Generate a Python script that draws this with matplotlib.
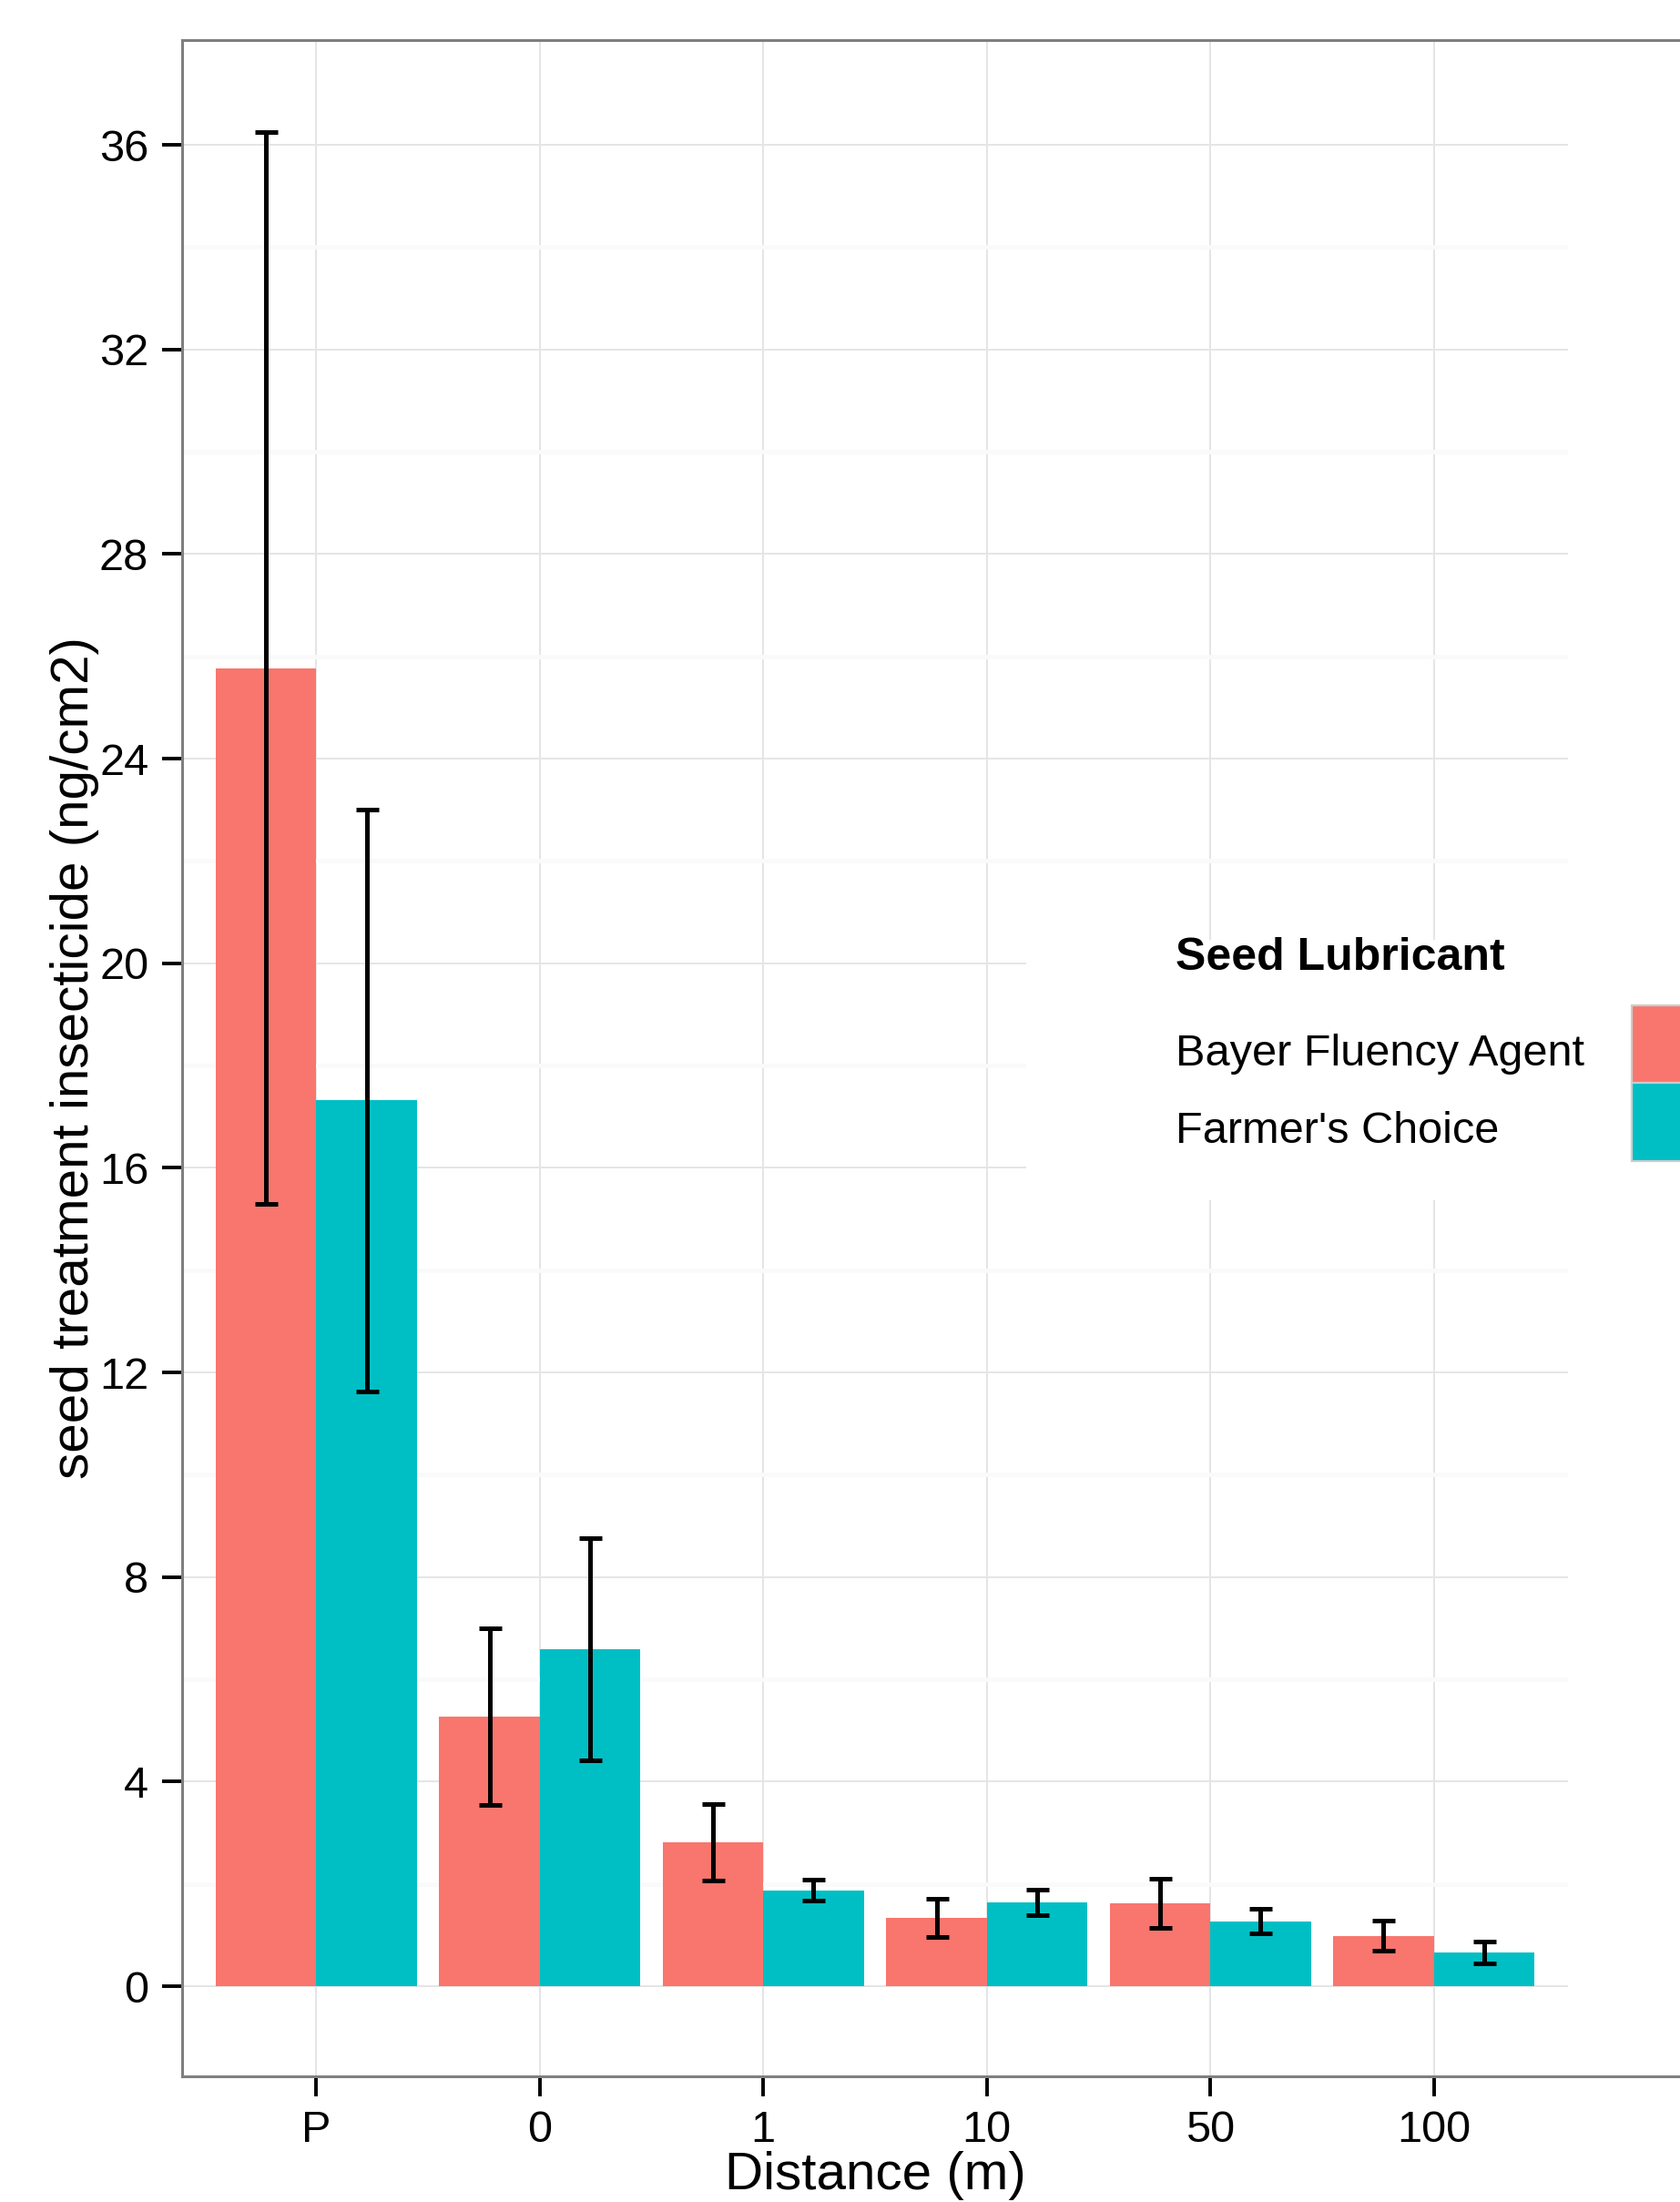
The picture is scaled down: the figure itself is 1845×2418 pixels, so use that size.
import matplotlib
matplotlib.use("Agg")
import matplotlib.pyplot as plt
from matplotlib.lines import Line2D
from matplotlib.patches import Rectangle
import numpy as np

plt.rcParams['font.family'] = ['Liberation Sans', 'DejaVu Sans']

# Seed treatment insecticide residue by distance from the planted field
distances = ['P', '0', '1', '10', '50', '100']
lubricants = ['Bayer Fluency Agent', "Farmer's Choice"]
bayer_mean = [25.77, 5.27, 2.82, 1.34, 1.62, 0.99]
bayer_se = [10.48, 1.73, 0.75, 0.38, 0.48, 0.29]
farmer_mean = [17.32, 6.59, 1.88, 1.64, 1.27, 0.66]
farmer_se = [5.69, 2.18, 0.20, 0.25, 0.24, 0.21]
y_ticks = [0, 4, 8, 12, 16, 20, 24, 28, 32, 36]

colors = ['#F8766D', '#00BFC4']
W, H = 1845, 2418
fig = plt.figure(figsize=(W / 100, H / 100), dpi=100)

# panel placement in pixels
px_left, px_right, px_top, px_bottom = 200, 1722, 44, 2280
ax = fig.add_axes([px_left / W, 1 - px_bottom / H,
                   (px_right - px_left) / W, (px_bottom - px_top) / H])

x = np.arange(1, len(distances) + 1)
bar_w = 0.45
series = [(bayer_mean, bayer_se), (farmer_mean, farmer_se)]
offsets = [-bar_w / 2, bar_w / 2]
for (mean, se), off, col in zip(series, offsets, colors):
    ax.bar(x + off, mean, width=bar_w, color=col, linewidth=0, zorder=2)
for (mean, se), off in zip(series, offsets):
    ax.errorbar(x + off, mean, yerr=se, fmt='none', ecolor='black',
                elinewidth=3.6, capsize=9, capthick=3.6, zorder=3)

ax.set_xlim(0.4, 6.6)
ax.set_ylim(-1.76, 38.05)
ax.set_xticks(x)
ax.set_xticklabels(distances)
ax.set_yticks(y_ticks)
ax.set_yticks([t + 2 for t in y_ticks[:-1]], minor=True)

ax.set_axisbelow(True)
ax.grid(which='major', color='#E5E5E5', linewidth=1.4)
ax.grid(which='minor', axis='y', color='#FAFAFA', linewidth=3.5)

ax.tick_params(which='major', direction='out', length=16, width=2.8,
               color='black', labelsize=35, pad=10.5)
ax.tick_params(which='minor', length=0)

for s in ['top', 'bottom', 'right']:
    ax.spines[s].set_visible(False)
ax.spines['left'].set_color('#7F7F7F')
ax.spines['left'].set_linewidth(2.2)

# top and bottom border lines continue to the right edge
for py in (px_top, px_bottom):
    fig.add_artist(Line2D([px_left / W, 1.0], [1 - py / H, 1 - py / H],
                          transform=fig.transFigure, color='#7F7F7F',
                          linewidth=2.2, solid_capstyle='projecting', zorder=1))

# axis titles
fig.text(961 / W, 1 - 2404 / H, 'Distance (m)', ha='center', va='baseline',
         fontsize=42)
fig.text(97 / W, 1 - 1162 / H, 'seed treatment insecticide (ng/cm2)',
         rotation=90, rotation_mode='anchor', ha='center', va='baseline',
         fontsize=42)

# legend box
fig.add_artist(Rectangle((1127 / W, 1 - 1318 / H), (W - 1127) / W, (1318 - 1032) / H,
                         transform=fig.transFigure, facecolor='white',
                         edgecolor='none', zorder=1))
fig.text(1291 / W, 1 - 1065 / H, 'Seed Lubricant', ha='left', va='baseline',
         fontsize=36, fontweight='bold', zorder=3)
label_baselines = [1170, 1255]
key_tops = [1104, 1189]
key_h = 86
for lab, yb, kt, col in zip(lubricants, label_baselines, key_tops, colors):
    fig.text(1291 / W, 1 - yb / H, lab, ha='left', va='baseline',
             fontsize=35, zorder=3)
    fig.add_artist(Rectangle((1792 / W, 1 - (kt + key_h) / H), key_h / W, key_h / H,
                             transform=fig.transFigure, facecolor=col,
                             edgecolor='#CCCCCC', linewidth=1.6, zorder=2))

fig.savefig('out.png', dpi=100, facecolor='white')
